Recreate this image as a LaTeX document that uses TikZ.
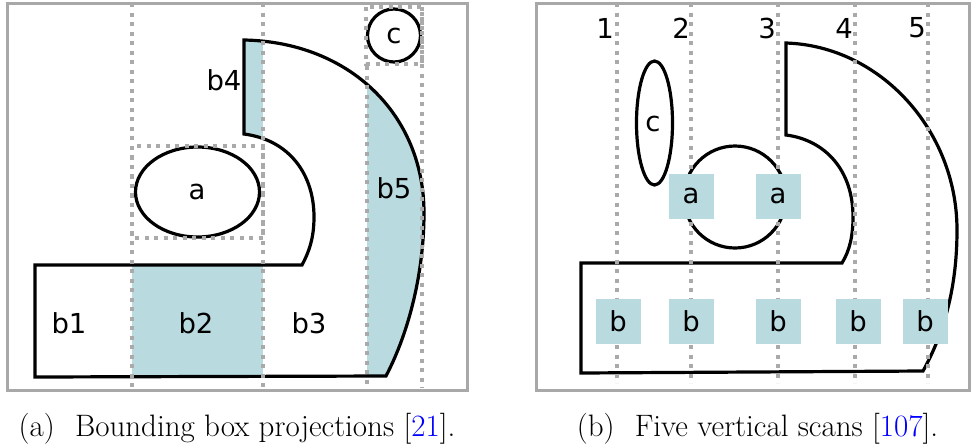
\documentclass[tikz,border=0pt]{standalone}
\usepackage{fontspec}
\newfontfamily\dejavu{DejaVu Sans}
\definecolor{lb}{RGB}{185,219,224}
\definecolor{scangray}{RGB}{170,170,170}
\definecolor{framegray}{RGB}{168,168,168}
\definecolor{citeblue}{RGB}{0,0,255}
\begin{document}
\begin{tikzpicture}[x=1pt,y=-1pt,
  outl/.style={draw=black, line width=3.2pt, line join=miter},
  scan/.style={draw=scangray, line width=4pt, dash pattern=on 4pt off 5.5pt},
  frm/.style={draw=framegray, line width=3pt},
  lbl/.style={font=\dejavu\fontsize{27.5}{32}\selectfont, inner sep=0pt},
  sq/.style={fill=lb, minimum width=45pt, minimum height=45pt, inner sep=0pt, font=\dejavu\fontsize{27.5}{32}\selectfont},
  captext/.style={font=\fontsize{31}{36}\selectfont, anchor=base, inner sep=0pt},
  shapeA/.style={insert path={(35,265) -- (302,265) .. controls (309,252) and (314,238) .. (314,217) .. controls (314,175) and (290,140) .. (244,134) -- (244,40) .. controls (350,42) and (424,115) .. (424,213) .. controls (424,270) and (410,330) .. (386,376) -- (35,377) -- cycle}},
  shapeB/.style={insert path={(581,263) -- (842,263) .. controls (850,250) and (853,235) .. (853,217) .. controls (853,170) and (825,140) .. (786,135) -- (786,43) .. controls (880,46) and (957,130) .. (957,230) .. controls (957,290) and (943,335) .. (923,371) -- (581,373) -- cycle}}]
\useasboundingbox (0,0) rectangle (971,445);
% ---------- panel (a) ----------
\draw[frm] (7,3) rectangle (467,390);
\begin{scope}
  \clip[shapeA];
  \fill[lb] (244,0) rectangle (263,150);
  \fill[lb] (132,265) rectangle (263,380);
  \fill[lb] (367,0) rectangle (440,380);
\end{scope}
\draw[outl, shapeA];
\draw[outl] (197.5,192) ellipse [x radius=62pt, y radius=45pt];
\draw[outl] (394,35.5) circle [radius=26.5pt];
\draw[scan] (132,3) -- (132,388);
\draw[scan] (263,3) -- (263,388);
\draw[scan] (367,66) -- (367,388);
\draw[scan] (422,7) -- (422,388);
\draw[scan] (132,146) rectangle (263,238);
\draw[scan] (366,7) rectangle (422,64);
\node[lbl] (b1) at (69,323) {b1};
\node[lbl] (b2) at (196,323) {b2};
\node[lbl] (b3) at (309,323) {b3};
\node[lbl] (b4) at (224,80) {b4};
\node[lbl] (b5) at (394,188) {b5};
\node[lbl] (la) at (197,192) {a};
\node[lbl] (lc) at (394,36) {c};
\node[captext] (capa) at (237,436) {(a)\hskip0.65em Bounding box projections [\textcolor{citeblue}{21}].};
% ---------- panel (b) ----------
\draw[frm] (536,3) rectangle (969,390);
\draw[outl, shapeB];
\draw[outl] (735,197) circle [radius=51pt];
\draw[outl] (654.5,123) ellipse [x radius=18pt, y radius=62pt];
\node[lbl] (lc2) at (653,124) {c};
\foreach \x in {617,691,778,855,928} \draw[scan] (\x,3) -- (\x,383);
\node[lbl] (n1) at (605,28) {1};
\node[lbl] (n2) at (681,28) {2};
\node[lbl] (n3) at (767,28) {3};
\node[lbl] (n4) at (844,28) {4};
\node[lbl] (n5) at (917,28) {5};
\node[sq] (sa1) at (691,196) {a};
\node[sq] (sa2) at (778,196) {a};
\node[sq] (sb1) at (618,321) {b};
\node[sq] (sb2) at (691,321) {b};
\node[sq] (sb3) at (778,321) {b};
\node[sq] (sb4) at (858,321) {b};
\node[sq] (sb5) at (925,321) {b};
\node[captext] (capb) at (757.5,436) {(b)\hskip0.65em Five vertical scans [\textcolor{citeblue}{107}].};
\end{tikzpicture}
\end{document}
